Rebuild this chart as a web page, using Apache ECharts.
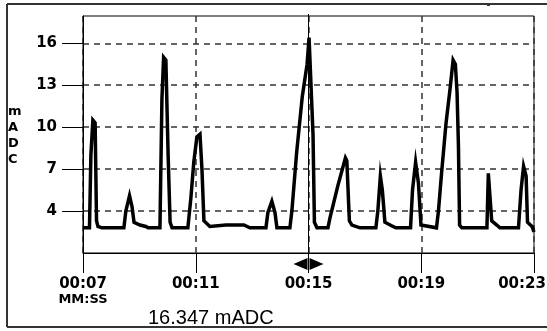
<!DOCTYPE html>
<html>
<head>
<meta charset="utf-8">
<style>
  html, body { margin: 0; padding: 0; background: #fff; }
  #chart { width: 547px; height: 331px; }
</style>
<script src="https://cdn.jsdelivr.net/npm/echarts@6/dist/echarts.min.js"></script>
</head>
<body>
<div id="chart"></div>
<script>
// ---- data (time in seconds, current in mADC) ----
const times = [
  7.00, 7.23, 7.28, 7.35, 7.43, 7.48, 7.53, 7.67,
  8.45, 8.52, 8.65, 8.74, 8.81, 9.02, 9.23, 9.31,
  9.73, 9.80, 9.86, 9.94, 10.02, 10.09, 10.16,
  10.72, 10.83, 10.93, 11.04, 11.15, 11.22, 11.29, 11.50,
  12.07, 12.71, 12.92,
  13.49, 13.56, 13.70, 13.81, 13.88,
  14.34, 14.41, 14.58, 14.78, 14.95, 15.02, 15.09, 15.16, 15.21, 15.30,
  15.69, 15.76, 16.04, 16.31, 16.36, 16.45, 16.54, 16.83,
  17.39, 17.46, 17.55, 17.62, 17.71, 18.00, 18.10,
  18.62, 18.69, 18.80, 18.90, 18.99,
  19.54, 19.61, 19.72, 19.88, 20.02, 20.13, 20.21, 20.27, 20.32, 20.36, 20.44,
  21.33, 21.38, 21.43, 21.50, 21.68, 21.79,
  22.45, 22.54, 22.63, 22.72, 22.77, 22.93, 23.00
];
const values = [
  2.8, 2.8, 8.0, 10.5, 10.3, 3.3, 2.9, 2.8,
  2.8, 4.0, 5.1, 4.3, 3.2, 3.0, 2.9, 2.8,
  2.8, 12.0, 15.0, 14.8, 8.0, 3.2, 2.8,
  2.8, 5.0, 7.5, 9.3, 9.5, 7.0, 3.3, 2.9,
  3.0, 3.0, 2.8,
  2.8, 3.9, 4.7, 3.9, 2.8,
  2.8, 4.0, 8.2, 12.2, 14.5, 16.4, 16.3, 9.5, 3.2, 2.8,
  2.8, 3.5, 5.8, 7.8, 7.6, 3.3, 3.0, 2.8,
  2.8, 4.0, 6.5, 5.5, 3.2, 2.9, 2.8,
  2.8, 5.5, 7.5, 6.0, 3.0,
  2.8, 4.0, 6.7, 10.3, 12.7, 14.8, 14.5, 12.5, 8.6, 3.0, 2.8,
  2.8, 6.7, 6.6, 3.3, 3.0, 2.8,
  2.8, 5.5, 7.2, 6.5, 3.2, 2.9, 2.5
];
const yTicks = [4, 7, 10, 13, 16];
const xTicks = [7, 11, 15, 19, 23];
const yAxisTitle = 'mADC';
const xAxisUnit = 'MM:SS';
const cursorTime = 15;
const readout = '16.347 mADC';

const pad2 = n => (n < 10 ? '0' : '') + n;
const seriesData = times.map((t, i) => [t, values[i]]);

const chart = echarts.init(document.getElementById('chart'));
const labelFont = 'DejaVu Sans';

chart.setOption({
  animation: false,
  backgroundColor: '#fff',
  grid: {
    left: 83, top: 16, right: 13, bottom: 78,
    containLabel: false, outerBoundsMode: 'none',
    show: true, borderColor: '#000', borderWidth: 1, backgroundColor: 'transparent'
  },
  xAxis: {
    type: 'value', min: 7, max: 23, interval: 4,
    axisLine: { show: true, lineStyle: { color: '#000', width: 1 } },
    axisTick: { show: true, length: 20, lineStyle: { color: '#000', width: 1 } },
    splitLine: { show: true, lineStyle: { color: '#333', width: 1.5, type: [6, 5] } },
    axisLabel: {
      showMinLabel: true, showMaxLabel: true, hideOverlap: false,
      margin: 23,
      color: '#000', fontFamily: labelFont, fontWeight: 'bold', fontSize: 15, lineHeight: 16,
      formatter: v => {
        const s = '00:' + pad2(Math.round(v));
        if (v === xTicks[0]) return s + '\n{u|' + xAxisUnit + '}';
        if (v === xTicks[xTicks.length - 1]) return '{r|' + s + '}';
        return s;
      },
      rich: {
        u: { fontFamily: labelFont, fontWeight: 'bold', fontSize: 13, lineHeight: 16, color: '#000' },
        r: { fontFamily: labelFont, fontWeight: 'bold', fontSize: 15, lineHeight: 16, color: '#000', padding: [0, 24, 0, 0] }
      }
    }
  },
  yAxis: {
    type: 'value', min: 1, max: 17.95, interval: 3,
    axisLine: { show: true, lineStyle: { color: '#000', width: 1 } },
    axisTick: { show: true, length: 21, customValues: yTicks, lineStyle: { color: '#000', width: 1 } },
    splitLine: { show: true, lineStyle: { color: '#333', width: 1.5, type: [6, 5] } },
    axisLabel: {
      customValues: yTicks,
      margin: 26,
      color: '#000', fontFamily: labelFont, fontWeight: 'bold', fontSize: 15
    }
  },
  series: [{
    type: 'line',
    data: seriesData,
    showSymbol: false,
    symbol: 'none',
    lineStyle: { color: '#000', width: 3.5, join: 'miter' },
    clip: true,
    z: 3
  }]
});

// cursor + frame decorations positioned from the chart's own scales
const cx = chart.convertToPixel({ xAxisIndex: 0 }, cursorTime);
const yTop = chart.convertToPixel({ yAxisIndex: 0 }, 17.95);
const yBot = chart.convertToPixel({ yAxisIndex: 0 }, 1);
const ay = yBot + 11;
chart.setOption({
  graphic: [
    { type: 'line', z: 10, shape: { x1: 7, y1: 4, x2: 547, y2: 4 }, style: { stroke: '#333', lineWidth: 2 } },
    { type: 'line', z: 10, shape: { x1: 7, y1: 4, x2: 7, y2: 327 }, style: { stroke: '#333', lineWidth: 2 } },
    { type: 'line', z: 10, shape: { x1: 7, y1: 327, x2: 547, y2: 327 }, style: { stroke: '#333', lineWidth: 2 } },
    { type: 'rect', z: 10, shape: { x: 487, y: 4, width: 3, height: 2 }, style: { fill: '#333' } },
    { type: 'line', z: 11, shape: { x1: cx, y1: yTop - 2, x2: cx, y2: yBot + 20 }, style: { stroke: '#000', lineWidth: 1 } },
    { type: 'polygon', z: 11, shape: { points: [[cx - 15, ay], [cx - 1, ay - 6], [cx - 1, ay + 6]] }, style: { fill: '#000' } },
    { type: 'polygon', z: 11, shape: { points: [[cx + 15, ay], [cx + 1, ay - 6], [cx + 1, ay + 6]] }, style: { fill: '#000' } },
    {
      type: 'text', z: 10, left: 8, top: 104,
      style: { text: yAxisTitle.split('').join('\n'), fontFamily: labelFont, fontWeight: 'bold', fontSize: 13, lineHeight: 16, fill: '#000', align: 'center' }
    },
    {
      type: 'text', z: 9, left: 148, top: 308,
      style: { text: readout, fontFamily: 'Liberation Sans', fontSize: 20, fill: '#000' }
    }
  ]
});
</script>
</body>
</html>
